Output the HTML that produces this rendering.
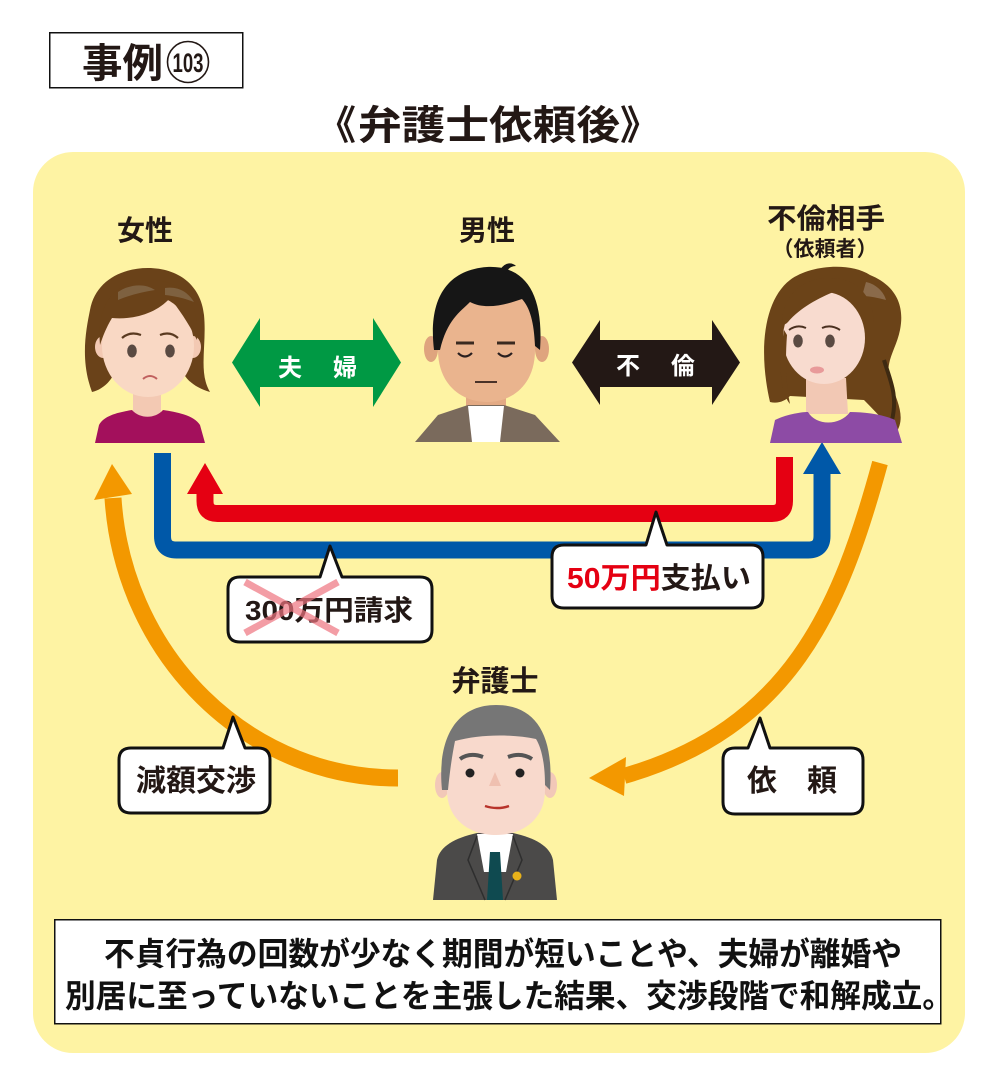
<!DOCTYPE html>
<html><head><meta charset="utf-8">
<style>
html,body{margin:0;padding:0;background:#fff;}
svg{display:block;}
text{font-family:"Liberation Sans","Noto Sans CJK JP",sans-serif;font-weight:bold;}
</style></head>
<body>
<svg width="1000" height="1087" viewBox="0 0 1000 1087" xmlns="http://www.w3.org/2000/svg">
<rect x="0" y="0" width="1000" height="1087" fill="#ffffff"/>

<!-- Title box -->
<rect x="49.75" y="32.75" width="193" height="55" fill="#fff" stroke="#111" stroke-width="1.5"/>
<text x="82" y="77" font-size="40" fill="#231815" textLength="81" lengthAdjust="spacingAndGlyphs">事例</text>
<circle cx="188" cy="62" r="20.5" fill="#fff" stroke="#231815" stroke-width="1.6"/>
<text x="188" y="72" font-size="27" fill="#231815" text-anchor="middle" textLength="31" lengthAdjust="spacingAndGlyphs">103</text>

<!-- Main title -->
<text x="316" y="139" font-size="40" fill="#231815">《</text>
<text x="358" y="139" font-size="40" fill="#231815" textLength="262" lengthAdjust="spacingAndGlyphs">弁護士依頼後</text>
<text x="620" y="139" font-size="40" fill="#231815">》</text>

<!-- Yellow panel -->
<rect x="33" y="152" width="932" height="901" rx="40" ry="40" fill="#fef3a3"/>

<!-- Labels -->
<text x="145" y="240" font-size="28" fill="#231815" text-anchor="middle">女性</text>
<text x="487" y="240" font-size="28" fill="#231815" text-anchor="middle">男性</text>
<text x="826" y="228" font-size="28" fill="#231815" text-anchor="middle" textLength="118" lengthAdjust="spacingAndGlyphs">不倫相手</text>
<text x="825" y="256" font-size="21" fill="#231815" text-anchor="middle">（依頼者）</text>
<text x="495" y="691" font-size="29" fill="#231815" text-anchor="middle">弁護士</text>

<!-- Green double arrow -->
<polygon points="232,362.5 260,318 260,340 373,340 373,318 401,362.5 373,407 373,387 260,387 260,407" fill="#009944"/>
<text x="290" y="376" font-size="24" fill="#fff" text-anchor="middle">夫</text>
<text x="345" y="376" font-size="24" fill="#fff" text-anchor="middle">婦</text>

<!-- Black double arrow -->
<polygon points="572,362.5 600,320 600,340 712,340 712,320 740,362.5 712,405 712,387 600,387 600,405" fill="#231815"/>
<text x="628" y="374" font-size="24" fill="#fff" text-anchor="middle">不</text>
<text x="683" y="374" font-size="24" fill="#fff" text-anchor="middle">倫</text>

<!-- Blue path -->
<path d="M162.5,453 V536 Q162.5,550 176.5,550 H808 Q822,550 822,536 V470" fill="none" stroke="#0058a8" stroke-width="17"/>
<polygon points="803,474 822,442 841,474" fill="#0058a8"/>

<!-- Red path -->
<path d="M784.5,457 V501 Q784.5,513.5 772,513.5 H217.5 Q205,513.5 205,501 V490" fill="none" stroke="#e50012" stroke-width="17"/>
<polygon points="187,494 205,463 223,494" fill="#e50012"/>

<!-- Orange arcs -->
<path d="M398,778 A285,300 0 0 1 113,498" fill="none" stroke="#f39800" stroke-width="17"/>
<polygon points="94,500 112,464 132,494" fill="#f39800"/>
<path d="M880,463 C840,610 790,728 624,776" fill="none" stroke="#f39800" stroke-width="16"/>
<polygon points="589,778 626,757 624,796" fill="#f39800"/>

<!-- Woman 1 -->
<g>
<path d="M92,392 C80,360 86,330 90,310 C95,282 120,268 148,268 C178,268 201,285 204,315 C207,345 198,372 210,392 C196,388 186,380 183,372 L115,372 C110,383 101,390 92,392 Z" fill="#6a4219"/>
<rect x="133" y="385" width="28" height="32" fill="#f3c9b3"/>
<path d="M95,443 L99,425 C104,415 120,412 132,410 C140,419 155,419 163,410 C176,412 194,415 200,425 L205,443 Z" fill="#a3105c"/>
<ellipse cx="103" cy="347" rx="8" ry="11" fill="#f3c9b3"/>
<ellipse cx="193" cy="347" rx="8" ry="11" fill="#f3c9b3"/>
<ellipse cx="148" cy="346" rx="46" ry="51" fill="#f9d8c4"/>
<path d="M100,345 C96,300 118,280 150,280 C182,280 200,300 197,340 C188,322 178,308 170,298 C156,314 132,320 112,318 C106,328 103,336 100,345 Z" fill="#6a4219"/>
<path d="M118,292 C130,284 145,283 155,290 C142,292 130,295 118,300 Z" fill="#7e6140"/>
<path d="M165,288 C178,286 188,292 194,302 C184,298 174,296 165,295 Z" fill="#7e6140"/>
<ellipse cx="132" cy="351" rx="4.8" ry="6.5" fill="#5a4a42"/>
<ellipse cx="170" cy="351" rx="4.8" ry="6.5" fill="#5a4a42"/>
<path d="M122,338 Q130,331 141,335" fill="none" stroke="#5a3a20" stroke-width="2.2"/>
<path d="M160,335 Q170,331 178,338" fill="none" stroke="#5a3a20" stroke-width="2.2"/>
<path d="M143,379 Q150,373 157,379" fill="none" stroke="#c0605e" stroke-width="2"/>
</g>

<!-- Man -->
<g>
<ellipse cx="431" cy="349" rx="7" ry="13" fill="#dfa47e"/>
<ellipse cx="542" cy="349" rx="7" ry="13" fill="#dfa47e"/>
<rect x="466" y="392" width="40" height="20" fill="#e3aa84"/>
<polygon points="415,442 438,415 468,405 504,405 535,415 560,442" fill="#7a6a5c"/>
<polygon points="468,406 504,406 500,442 472,442" fill="#ffffff"/>
<path d="M438,320 C438,300 460,290 487,290 C514,290 535,300 535,320 L535,350 C535,385 512,402 487,402 C462,402 438,385 438,350 Z" fill="#eab48e"/>
<path d="M434,350 C428,300 446,270 487,267 C526,265 544,295 540,350 L535,346 C534,322 530,308 522,299 C505,305 485,310 470,302 C460,312 447,320 440,350 Z" fill="#161616"/>
<path d="M500,270 C505,262 512,262 516,266 C510,266 507,270 505,275 Z" fill="#161616"/>
<path d="M456,343 H474" stroke="#3a2a20" stroke-width="3"/>
<path d="M497,343 H515" stroke="#3a2a20" stroke-width="3"/>
<path d="M458,353 Q465,360 472,353" fill="none" stroke="#2a2020" stroke-width="2.2"/>
<path d="M498,353 Q505,360 512,353" fill="none" stroke="#2a2020" stroke-width="2.2"/>
<path d="M475,382 H497" stroke="#4a3228" stroke-width="2"/>
</g>

<!-- Woman 2 -->
<g>
<path d="M770,402 C758,350 764,300 790,280 C810,265 850,262 870,275 C890,283 906,300 900,330 C896,350 884,362 890,382 C898,402 906,418 896,433 C884,421 874,410 864,400 L790,396 C785,401 778,404 770,402 Z" fill="#6b4318"/>
<path d="M866,282 C876,284 884,292 886,300 C878,298 870,296 862,296 Z" fill="#8a6a4a"/>
<path d="M884,360 C890,380 898,395 892,420" fill="none" stroke="#3e2a12" stroke-width="4"/>
<path d="M806,378 L846,378 L848,414 L806,414 Z" fill="#f2c8b4"/>
<path d="M770,443 L775,420 C785,415 800,412 808,412 C816,426 840,426 850,412 C866,412 885,415 895,420 L902,443 Z" fill="#8d4ba5"/>
<ellipse cx="824" cy="338" rx="41" ry="46" fill="#f8dbcf"/>
<path d="M782,325 C782,295 802,278 830,278 C856,278 872,294 874,322 C862,310 848,298 836,291 C818,298 800,308 788,322 C786,324 784,325 782,325 Z" fill="#6b4318"/>
<path d="M784,330 C778,365 780,392 790,404 C786,385 785,362 787,335 Z" fill="#6b4318"/>
<ellipse cx="798" cy="341" rx="4.8" ry="6.5" fill="#5a4a42"/>
<ellipse cx="830" cy="341" rx="4.8" ry="6.5" fill="#5a4a42"/>
<path d="M789,330 Q797,324 806,328" fill="none" stroke="#4a3020" stroke-width="2"/>
<path d="M822,328 Q831,324 840,330" fill="none" stroke="#4a3020" stroke-width="2"/>
<ellipse cx="817" cy="370" rx="7" ry="3.5" fill="#e89a9a"/>
</g>

<!-- Lawyer -->
<g>
<ellipse cx="442" cy="785" rx="7" ry="13" fill="#f2c8b8"/>
<ellipse cx="550" cy="785" rx="7" ry="13" fill="#f2c8b8"/>
<rect x="478" y="815" width="34" height="25" fill="#f0c6b6"/>
<path d="M433,900 L437,860 C440,846 455,838 477,833 L513,833 C535,838 550,846 553,860 L557,900 Z" fill="#4b4a49"/>
<polygon points="477,834 513,834 506,872 484,872" fill="#ffffff"/>
<path d="M477,836 L468,860 L485,900 M513,836 L522,860 L505,900" fill="none" stroke="#2e2e2e" stroke-width="1.5"/>
<polygon points="490,852 500,852 503,900 487,900" fill="#0f4a50"/>
<circle cx="517" cy="876" r="4.5" fill="#e8b21a"/>
<path d="M447,760 C447,735 470,722 496,722 C522,722 545,735 545,760 L545,790 C545,820 522,835 496,835 C470,835 447,820 447,790 Z" fill="#f8d9cc"/>
<path d="M442,790 C437,740 455,705 496,705 C536,705 554,735 550,790 L545,785 C545,762 541,747 536,739 C512,734 480,734 455,741 C452,756 450,770 448,790 Z" fill="#767676"/>
<path d="M460,759 Q470,752 483,757" fill="none" stroke="#555" stroke-width="4"/>
<path d="M508,757 Q521,752 532,759" fill="none" stroke="#555" stroke-width="4"/>
<circle cx="470" cy="773" r="4.5" fill="#222"/>
<circle cx="520" cy="773" r="4.5" fill="#222"/>
<polygon points="495,772 489,786 501,786" fill="#efc0b0"/>
<path d="M485,806 Q497,810 509,806" fill="none" stroke="#b8342b" stroke-width="2.5"/>
</g>

<!-- Bubble 1: 300万円請求 -->
<path d="M240,577 H320 L330,546 L342,577 H420 Q432,577 432,589 V630 Q432,642 420,642 H240 Q228,642 228,630 V589 Q228,577 240,577 Z" fill="#fff" stroke="#111" stroke-width="3" stroke-linejoin="round"/>
<text x="245" y="620" font-size="28" fill="#231815" textLength="168" lengthAdjust="spacingAndGlyphs">300万円請求</text>
<path d="M245,582 L338,633 M338,582 L245,633" stroke="#ef7580" stroke-width="7" opacity="0.7"/>

<!-- Bubble 2: 50万円支払い -->
<path d="M564,545 H646 L656,512 L667,545 H751 Q763,545 763,557 V596 Q763,608 751,608 H564 Q552,608 552,596 V557 Q552,545 564,545 Z" fill="#fff" stroke="#111" stroke-width="3" stroke-linejoin="round"/>
<text x="567" y="588" font-size="29" textLength="184" lengthAdjust="spacingAndGlyphs"><tspan fill="#e50012">50万円</tspan><tspan fill="#231815">支払い</tspan></text>

<!-- Bubble 3: 減額交渉 -->
<path d="M131,748 H223 L233,717 L245,748 H258 Q270,748 270,760 V801 Q270,813 258,813 H131 Q119,813 119,801 V760 Q119,748 131,748 Z" fill="#fff" stroke="#111" stroke-width="3" stroke-linejoin="round"/>
<text x="136" y="791" font-size="30" fill="#231815" textLength="120" lengthAdjust="spacingAndGlyphs">減額交渉</text>

<!-- Bubble 4: 依頼 -->
<path d="M735,748 H748 L760,718 L770,748 H851 Q863,748 863,760 V802 Q863,814 851,814 H735 Q723,814 723,802 V760 Q723,748 735,748 Z" fill="#fff" stroke="#111" stroke-width="3" stroke-linejoin="round"/>
<text x="762" y="791" font-size="30" fill="#231815" text-anchor="middle">依</text>
<text x="822" y="791" font-size="30" fill="#231815" text-anchor="middle">頼</text>

<!-- Bottom box -->
<rect x="54.75" y="919.75" width="886" height="104" fill="#fff" stroke="#111" stroke-width="1.5"/>
<text x="104" y="965" font-size="32" fill="#111" textLength="798" lengthAdjust="spacingAndGlyphs">不貞行為の回数が少なく期間が短いことや、夫婦が離婚や</text>
<text x="65" y="1007" font-size="32" fill="#111" textLength="888" lengthAdjust="spacingAndGlyphs">別居に至っていないことを主張した結果、交渉段階で和解成立。</text>
</svg>
</body></html>
